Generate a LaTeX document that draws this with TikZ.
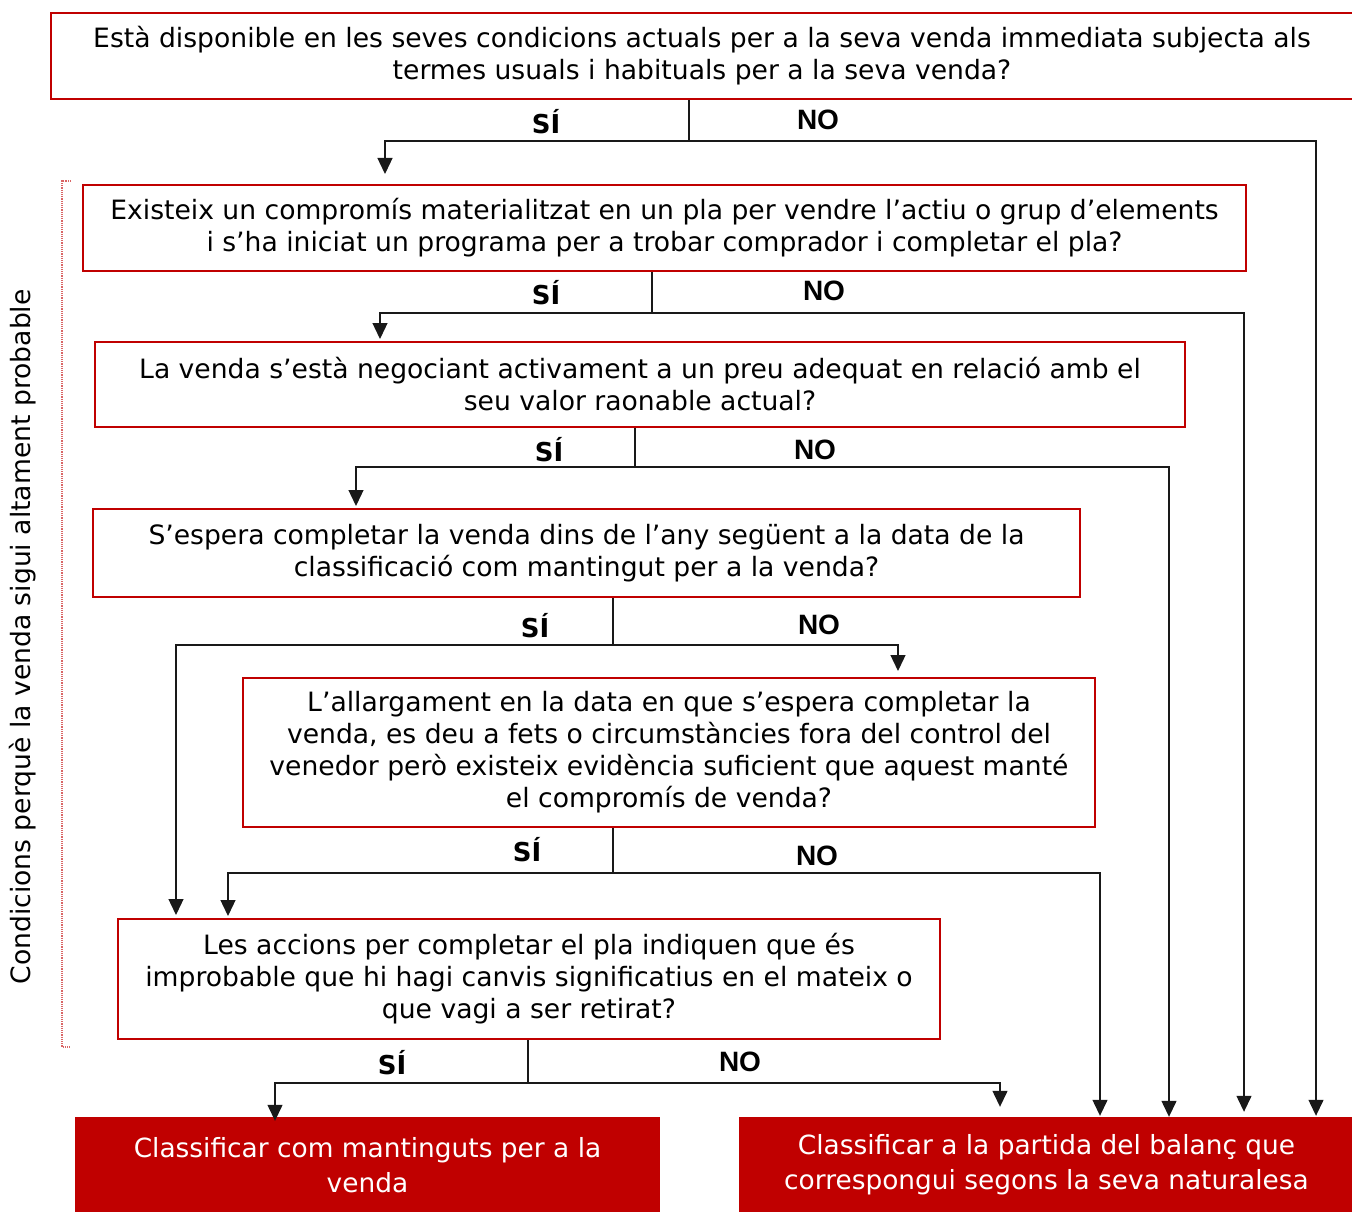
\documentclass[tikz,border=0pt]{standalone}
\usepackage{fontspec}
\setmainfont{DejaVu Sans}
\newfontfamily\labfont{Liberation Sans}
\usetikzlibrary{arrows.meta}
\definecolor{dred}{RGB}{192,0,0}
\begin{document}
\begin{tikzpicture}[x=1pt,y=-1pt,
 qbox/.style={draw=dred, line width=2pt, align=center, inner sep=0pt, font=\fontsize{26.6}{32}\selectfont},
 rbox/.style={fill=dred, text=white, align=center, inner sep=0pt, font=\fontsize{26.4}{35}\selectfont},
 conn/.style={line width=1.3pt, black!90},
 arr/.style={conn, -{Triangle[width=15pt,length=16pt]}},
 si/.style={font=\bfseries\fontsize{26}{26}\selectfont, inner sep=0pt},
 no/.style={font=\labfont\bfseries\fontsize{28}{28}\selectfont, inner sep=0pt}]
\useasboundingbox (0,0) rectangle (1352,1212);

% question boxes
\node[qbox, minimum width=1302pt, minimum height=86pt] (b1) at (702,56)
 {Està disponible en les seves condicions actuals per a la seva venda immediata subjecta als\\termes usuals i habituals per a la seva venda?};
\node[qbox, minimum width=1163pt, minimum height=86pt] (b2) at (664.5,228)
 {Existeix un compromís materialitzat en un pla per vendre l’actiu o grup d’elements\\i s’ha iniciat un programa per a trobar comprador i completar el pla?};
\node[qbox, minimum width=1090pt, minimum height=85pt] (b3) at (640,384.5)
 {La venda s’està negociant activament a un preu adequat en relació amb el\\seu valor raonable actual?};
\node[qbox, minimum width=987pt, minimum height=88pt] (b4) at (586.5,553)
 {S'espera completar la venda dins de l'any següent a la data de la\\classificació com mantingut per a la venda?};
\node[qbox, minimum width=852pt, minimum height=149pt] (b5) at (669,752.5)
 {L’allargament en la data en que s’espera completar la\\venda, es deu a fets o circumstàncies fora del control del\\venedor però existeix evidència suficient que aquest manté\\el compromís de venda?};
\node[qbox, minimum width=822pt, minimum height=120pt] (b6) at (529,979)
 {Les accions per completar el pla indiquen que és\\improbable que hi hagi canvis significatius en el mateix o\\que vagi a ser retirat?};

% result boxes
\node[rbox, minimum width=585pt, minimum height=96pt] (b7) at (367.5,1165)
 {Classificar com mantinguts per a la\\venda};
\node[rbox, minimum width=615pt, minimum height=96pt] (b8) at (1046.5,1165)
 {Classificar a la partida del balanç que\\correspongui segons la seva naturalesa};

% side bracket and label
\draw[dred!60, densely dotted, line width=1.2pt] (71,181) -- (62,181) -- (62,1047) -- (71,1047);
\node[rotate=90, font=\fontsize{26.6}{30}\selectfont, inner sep=0pt] (side) at (23,637)
 {Condicions perquè la venda sigui altament probable};

% junction coordinates
\coordinate (j1) at (689,141);  \coordinate (l1) at (385,141);  \coordinate (r1) at (1316,141);
\coordinate (j2) at (652,313);  \coordinate (l2) at (380,313);  \coordinate (r2) at (1244,313);
\coordinate (j3) at (635,467);  \coordinate (l3) at (356,467);  \coordinate (r3) at (1169,467);
\coordinate (j4) at (613,645);  \coordinate (l4) at (176,645);  \coordinate (r4) at (898,645);
\coordinate (j5) at (613,873);  \coordinate (l5) at (228,873);  \coordinate (r5) at (1100,873);
\coordinate (j6) at (528,1083); \coordinate (l6) at (275,1083); \coordinate (r6) at (1000,1083);

% connectors
\draw[conn] (b1.south -| j1) -- (j1);
\draw[arr] (j1) -- (l1) -- ([yshift=10pt]l1 |- b2.north);
\draw[arr] (j1) -- (r1) -- ([yshift=1pt]r1 |- b8.north);

\draw[conn] (b2.south -| j2) -- (j2);
\draw[arr] (j2) -- (l2) -- ([yshift=2pt]l2 |- b3.north);
\draw[arr] (j2) -- (r2) -- ([yshift=5pt]r2 |- b8.north);

\draw[conn] (b3.south -| j3) -- (j3);
\draw[arr] (j3) -- (l3) -- ([yshift=2pt]l3 |- b4.north);
\draw[arr] (j3) -- (r3) -- (r3 |- b8.north);

\draw[conn] (b4.south -| j4) -- (j4);
\draw[arr] (j4) -- (l4) -- ([yshift=3pt]l4 |- b6.north);
\draw[arr] (j4) -- (r4) -- ([yshift=6pt]r4 |- b5.north);

\draw[conn] (b5.south -| j5) -- (j5);
\draw[arr] (j5) -- (l5) -- ([yshift=2pt]l5 |- b6.north);
\draw[arr] (j5) -- (r5) -- ([yshift=1pt]r5 |- b8.north);

\draw[conn] (b6.south -| j6) -- (j6);
\draw[arr] (j6) -- (l6) -- ([yshift=-4pt]l6 |- b7.north);
\draw[arr] (j6) -- (r6) -- ([yshift=10pt]r6 |- b8.north);

% labels
\node[si] (s1) at (546,122) {SÍ};  \node[no] (n1) at (818,120) {NO};
\node[si] (s2) at (546,293) {SÍ};  \node[no] (n2) at (824,291) {NO};
\node[si] (s3) at (549,450) {SÍ};  \node[no] (n3) at (815,450) {NO};
\node[si] (s4) at (535,626) {SÍ};  \node[no] (n4) at (819,625) {NO};
\node[si] (s5) at (527,850) {SÍ};  \node[no] (n5) at (817,856) {NO};
\node[si] (s6) at (392,1063) {SÍ}; \node[no] (n6) at (740,1062) {NO};
\end{tikzpicture}
\end{document}
